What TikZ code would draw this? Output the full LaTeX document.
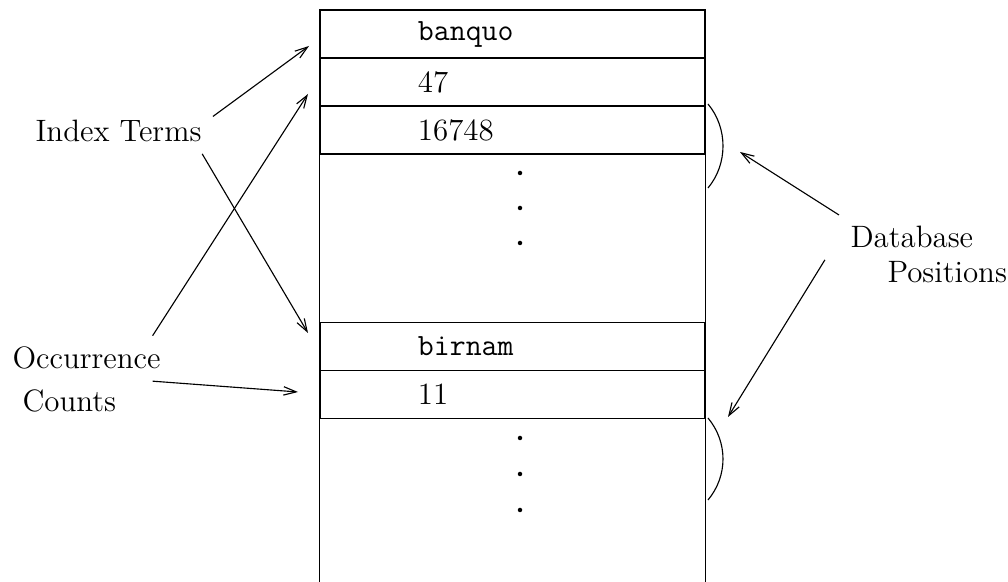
\documentclass[tikz,border=0pt]{standalone}
\usetikzlibrary{arrows.meta}

\begin{document}
\begin{tikzpicture}[x=0.0125cm, y=-0.0125cm, node distance=0.6cm, font=\fontsize{11}{13}\selectfont]
        \tikzstyle{cell} = [rectangle, draw=black, text width=2.3625cm, inner xsep=1.225cm, inner ysep=0pt, minimum height=0.6cm, align=left]
        \tikzstyle{lbl} = [inner sep=3.9pt, anchor=base west]
        \tikzstyle{pointer} = [->, >={Straight Barb[length=4.5pt, width=3pt]}]
        \useasboundingbox (0,0) rectangle (1008,582);

        \node (banquo) [cell] at (512.5,34) {\texttt{banquo}};
        \node (n47) [cell, below of=banquo] {47};
        \node (n16748) [cell, below of=n47] {16748};
        \node (birnam) [cell, below of=n16748, yshift=-2.1cm] {\texttt{birnam}};
        \node (n11) [cell, below of=birnam] {11};
        \coordinate (bottom) at (512.5,582);
        \draw (banquo.north west) -- (banquo.north west |- bottom);
        \draw (banquo.north east) -- (banquo.north east |- bottom);
        \foreach \y in {173,208,243,438,474,510}
            \fill (520,\y) circle (0.8pt);

        % brackets for the position lists
        \draw (708,104) .. controls (728,128) and (728,164) .. (708,188);
        \draw (708,418) .. controls (728,442) and (728,476) .. (708,500);

        \node (index) [lbl] at (24,142) {Index Terms};
        \node (occ) [lbl] at (1,369) {Occurrence};
        \node (cnt) [lbl] at (11,412) {Counts};
        \node (db) [lbl] at (839,248) {Database};
        \node (pos) [lbl] at (876,283) {Positions};

        \coordinate (tipBanquo) at (309,46);
        \coordinate (tip47) at (308,94);
        \coordinate (tipBirnam) at (308,333);
        \coordinate (tip11) at (298,392);
        \coordinate (tipUpper) at (740,152);
        \coordinate (tipLower) at (728,417);

        \draw[pointer] (index.9) -- (tipBanquo);
        \draw[pointer] (index.-15) -- (tipBirnam);
        \draw[pointer] (occ.19) -- (tip47);
        \draw[pointer] (occ.-19) -- (tip11);
        \draw[pointer] (db.north west) -- (tipUpper);
        \draw[pointer] ([xshift=-5pt]db.south west) -- (tipLower);

    \end{tikzpicture}
\end{document}
